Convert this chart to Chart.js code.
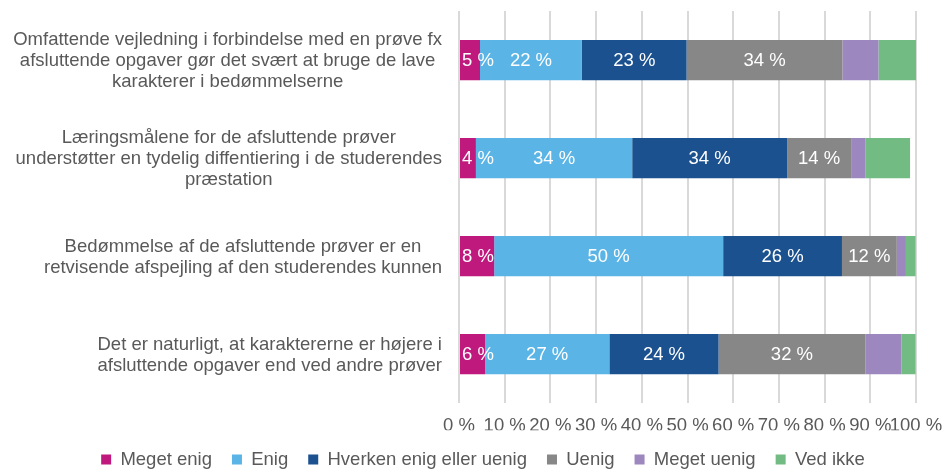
<!DOCTYPE html>
<html>
<head>
<meta charset="utf-8">
<script src="https://cdn.jsdelivr.net/npm/chart.js@4/dist/chart.umd.min.js"></script>
<style>
  body { margin: 0; background: #fff; }
  #wrap { width: 943px; height: 469px; }
</style>
</head>
<body>
<div id="wrap"><canvas id="chart" width="943" height="469"></canvas></div>
<script>
const categories = [
  ["Omfattende vejledning i forbindelse med en prøve fx", "afsluttende opgaver gør det svært at bruge de lave", "karakterer i bedømmelserne"],
  ["Læringsmålene for de afsluttende prøver", "understøtter en tydelig diffentiering i de studerendes", "præstation"],
  ["Bedømmelse af de afsluttende prøver er en", "retvisende afspejling af den studerendes kunnen"],
  ["Det er naturligt, at karaktererne er højere i", "afsluttende opgaver end ved andre prøver"],
];

const seriesNames = ["Meget enig", "Enig", "Hverken enig eller uenig", "Uenig", "Meget uenig", "Ved ikke"];
const seriesColors = ["#C0197E", "#5BB4E6", "#1B518E", "#878787", "#9C88BE", "#72BB82"];

const megetEnig = [4.6, 3.7, 7.7, 5.7];
const enig = [22.3, 34.2, 50.1, 27.2];
const hverken = [22.9, 33.9, 26.0, 23.9];
const uenig = [34.1, 14.0, 12.0, 32.1];
const megetUenig = [7.9, 3.1, 2.0, 7.9];
const vedIkke = [8.2, 9.8, 2.1, 3.1];

const xTicks = [0, 10, 20, 30, 40, 50, 60, 70, 80, 90, 100];

const seriesValues = [megetEnig, enig, hverken, uenig, megetUenig, vedIkke];
const labelledSeries = 4; // only the first four series carry value labels

const FONT = "'Liberation Sans', Arial, sans-serif";
const FONT_SIZE = 18.5;
const TEXT = "#595959";

// category labels: each label centred on its own, block right-aligned
const yLabelPlugin = {
  id: "yLabels",
  afterDraw(chart) {
    const ctx = chart.ctx;
    const y = chart.scales.y;
    const right = chart.chartArea.left - 17;
    ctx.save();
    ctx.font = FONT_SIZE + "px " + FONT;
    ctx.fillStyle = TEXT;
    ctx.textAlign = "center";
    ctx.textBaseline = "middle";
    chart.data.labels.forEach((lines, i) => {
      const cy = y.getPixelForTick(i) + 1;
      const widest = Math.max(...lines.map((l) => ctx.measureText(l).width));
      const cx = right - widest / 2;
      lines.forEach((line, j) => {
        ctx.fillText(line, cx, cy + (j - (lines.length - 1) / 2) * 21.3);
      });
    });
    ctx.restore();
  },
};

// white value labels inside the segments
const valueLabelPlugin = {
  id: "valueLabels",
  afterDatasetsDraw(chart) {
    const ctx = chart.ctx;
    const left = chart.chartArea.left;
    ctx.save();
    ctx.font = FONT_SIZE + "px " + FONT;
    ctx.fillStyle = "#ffffff";
    ctx.textAlign = "center";
    ctx.textBaseline = "middle";
    for (let d = 0; d < labelledSeries; d++) {
      const meta = chart.getDatasetMeta(d);
      meta.data.forEach((bar, i) => {
        const txt = Math.round(chart.data.datasets[d].data[i]) + " %";
        const w = ctx.measureText(txt).width;
        let cx = (bar.base + bar.x) / 2;
        cx = Math.max(cx, left + w / 2 + 3);
        ctx.fillText(txt, cx, bar.y + 1);
      });
    }
    ctx.restore();
  },
};

// keep the legend row low under the axis labels
const legendFitPlugin = {
  id: "legendFit",
  beforeInit(chart) {
    const legend = chart.legend;
    const fit = legend.fit;
    legend.fit = function () {
      fit.call(this);
      this.height = this.options.labels.padding + 18.75;
    };
  },
};

new Chart(document.getElementById("chart"), {
  type: "bar",
  data: {
    labels: categories,
    datasets: seriesNames.map((name, i) => ({
      label: name,
      data: seriesValues[i],
      backgroundColor: seriesColors[i],
      borderWidth: 0,
      categoryPercentage: 1,
      barPercentage: 0.41,
    })),
  },
  options: {
    indexAxis: "y",
    responsive: false,
    animation: false,
    layout: { padding: { top: 11, right: 27, left: 50, bottom: 0 } },
    plugins: {
      legend: {
        position: "bottom",
        labels: {
          boxWidth: 10,
          boxHeight: 10,
          padding: 20,
          color: TEXT,
          font: { family: FONT, size: FONT_SIZE },
        },
      },
      tooltip: { enabled: false },
    },
    scales: {
      x: {
        stacked: true,
        min: 0,
        max: 100,
        afterBuildTicks: (scale) => {
          scale.ticks = xTicks.map((v) => ({ value: v }));
        },
        afterFit: (scale) => {
          scale.height = 27;
          scale.paddingLeft = 0;
          scale.paddingRight = 0;
        },
        ticks: {
          color: TEXT,
          padding: 12,
          maxRotation: 0,
          autoSkip: false,
          font: { family: FONT, size: FONT_SIZE },
          callback: (v) => v + " %",
        },
        grid: { color: "#d9d9d9", lineWidth: 2, drawTicks: false },
        border: { display: false },
      },
      y: {
        stacked: true,
        afterFit: (scale) => {
          scale.width = 409;
        },
        ticks: { display: false },
        grid: { display: false },
        border: { display: false },
      },
    },
  },
  plugins: [yLabelPlugin, valueLabelPlugin, legendFitPlugin],
});
</script>
</body>
</html>
